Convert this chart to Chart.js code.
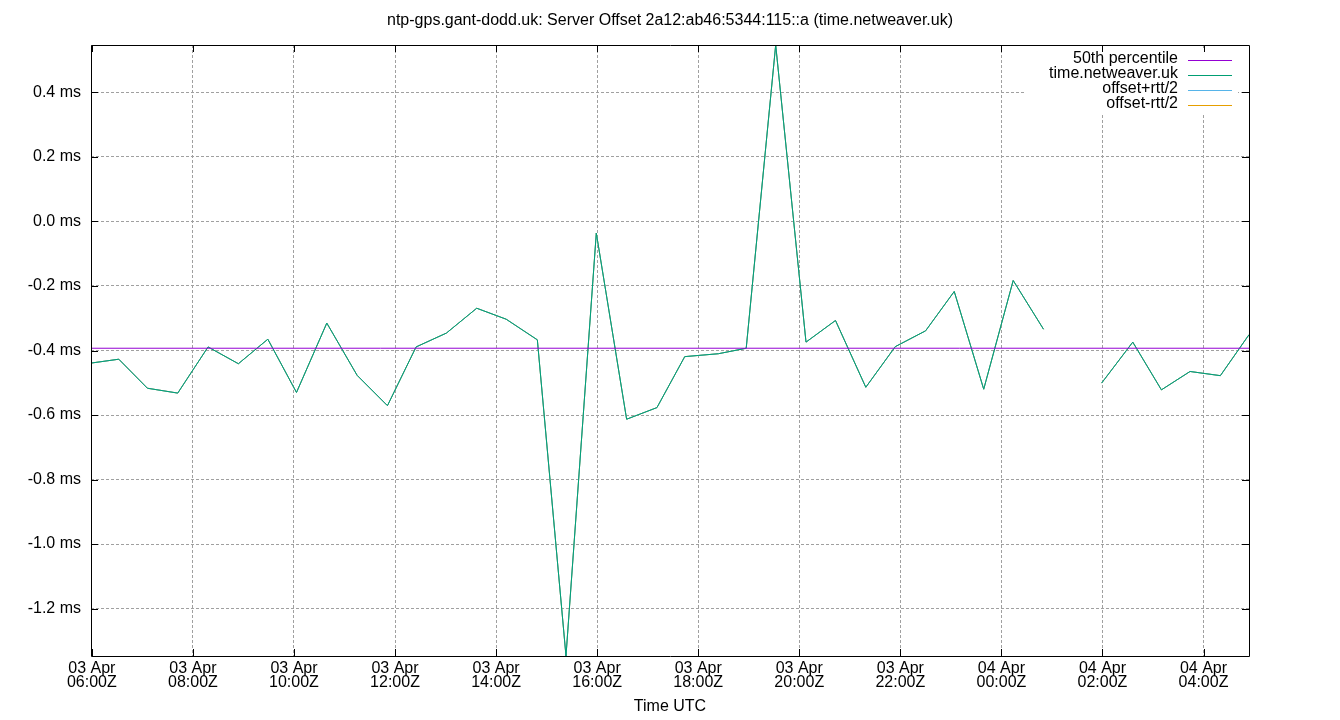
<!DOCTYPE html>
<html>
<head>
<meta charset="utf-8">
<script src="https://cdn.jsdelivr.net/npm/chart.js@4/dist/chart.umd.min.js"></script>
<style>
  html, body { margin: 0; padding: 0; background: #fff; }
  canvas { display: block; }
</style>
</head>
<body>
<canvas id="c" width="1340" height="720"></canvas>
<script>
// Minutes since 03 Apr 06:00Z (null = gap in data)
const sampleMinutes = [-1, 32, 66, 102, 138, 174, 209, 243, 279, 315, 351, 385, 421, 457, 492, 529, 563, 599, 635, 671, 704, 744, 777, 812, 848, 883, 919, 954, 990, 1024, 1059, 1094, 1130, 1165, 1199, 1236, 1270, 1304, 1340, 1374];
// Offset (ms)
const offsetMs = [-0.439, -0.427, -0.517, -0.532, -0.389, -0.441, -0.365, -0.530, -0.315, -0.477, -0.571, -0.389, -0.346, -0.269, -0.303, -0.367, -1.347, -0.036, -0.613, -0.577, -0.419, -0.410, -0.393, 0.547, -0.374, -0.307, -0.514, -0.388, -0.339, -0.217, -0.520, -0.183, -0.334, null, -0.501, -0.374, -0.522, -0.465, -0.478, -0.351];
// offset + rtt/2 (ms) — rtt is negligible at this scale
const offsetPlusRtt = [-0.439, -0.427, -0.517, -0.532, -0.389, -0.441, -0.365, -0.530, -0.315, -0.477, -0.571, -0.389, -0.346, -0.269, -0.303, -0.367, -1.347, -0.036, -0.613, -0.577, -0.419, -0.410, -0.393, 0.547, -0.374, -0.307, -0.514, -0.388, -0.339, -0.217, -0.520, -0.183, -0.334, null, -0.501, -0.374, -0.522, -0.465, -0.478, -0.351];
// offset - rtt/2 (ms)
const offsetMinusRtt = [-0.439, -0.427, -0.517, -0.532, -0.389, -0.441, -0.365, -0.530, -0.315, -0.477, -0.571, -0.389, -0.346, -0.269, -0.303, -0.367, -1.347, -0.036, -0.613, -0.577, -0.419, -0.410, -0.393, 0.547, -0.374, -0.307, -0.514, -0.388, -0.339, -0.217, -0.520, -0.183, -0.334, null, -0.501, -0.374, -0.522, -0.465, -0.478, -0.351];
// 50th percentile (ms)
const percentile50 = -0.393;

const xTickLabels = [
  ["03 Apr", "06:00Z"], ["03 Apr", "08:00Z"], ["03 Apr", "10:00Z"], ["03 Apr", "12:00Z"],
  ["03 Apr", "14:00Z"], ["03 Apr", "16:00Z"], ["03 Apr", "18:00Z"], ["03 Apr", "20:00Z"],
  ["03 Apr", "22:00Z"], ["04 Apr", "00:00Z"], ["04 Apr", "02:00Z"], ["04 Apr", "04:00Z"]
];
const yTickLabels = { "0.4": "0.4 ms", "0.2": "0.2 ms", "0.0": "0.0 ms", "-0.2": "-0.2 ms", "-0.4": "-0.4 ms", "-0.6": "-0.6 ms", "-0.8": "-0.8 ms", "-1.0": "-1.0 ms", "-1.2": "-1.2 ms" };

const titleText = "ntp-gps.gant-dodd.uk: Server Offset 2a12:ab46:5344:115::a (time.netweaver.uk)";

const FONT = '"Liberation Sans", Arial, sans-serif';
const toXY = (vals) => sampleMinutes.map((m, i) => ({ x: m, y: vals[i] }));
const xMin = sampleMinutes[0];
const xMax = sampleMinutes[sampleMinutes.length - 1];

const legendPlugin = {
  id: 'gpLegend',
  afterDatasetsDraw(chart) {
    const { ctx, chartArea: a } = chart;
    ctx.save();
    ctx.fillStyle = '#ffffff';
    ctx.fillRect(a.right - 223, a.top + 3, 212, 65);
    ctx.font = '16px ' + FONT;
    ctx.textAlign = 'right';
    ctx.textBaseline = 'middle';
    chart.data.datasets.forEach((ds, i) => {
      const ly = Math.round(a.top + 15 + i * 15) + 0.5;
      ctx.fillStyle = '#000';
      ctx.fillText(ds.label, a.right - 71, ly - 1.5);
      ctx.strokeStyle = ds.borderColor;
      ctx.lineWidth = 1;
      ctx.beginPath();
      ctx.moveTo(a.right - 61, ly);
      ctx.lineTo(a.right - 17, ly);
      ctx.stroke();
    });
    ctx.restore();
  }
};

const framePlugin = {
  id: 'gpFrame',
  afterDraw(chart) {
    const { ctx, chartArea: a } = chart;
    const xs = chart.scales.x, ys = chart.scales.y;
    const L = 7;
    ctx.save();
    ctx.strokeStyle = '#000';
    ctx.lineWidth = 1;
    ctx.beginPath();
    ctx.rect(Math.round(a.left) + 0.5, Math.round(a.top) + 0.5, Math.round(a.right - a.left), Math.round(a.bottom - a.top));
    xs.ticks.forEach(t => {
      const px = Math.round(xs.getPixelForValue(t.value)) + 0.5;
      ctx.moveTo(px, a.bottom); ctx.lineTo(px, a.bottom - L);
      ctx.moveTo(px, a.top); ctx.lineTo(px, a.top + L);
    });
    ys.ticks.forEach(t => {
      const py = Math.round(ys.getPixelForValue(t.value)) + 0.5;
      ctx.moveTo(a.left, py); ctx.lineTo(a.left + L, py);
      ctx.moveTo(a.right, py); ctx.lineTo(a.right - L, py);
    });
    ctx.stroke();
    ctx.restore();
  }
};

new Chart(document.getElementById('c'), {
  type: 'line',
  data: {
    datasets: [
      { label: '50th percentile', data: [{ x: xMin, y: percentile50 }, { x: xMax, y: percentile50 }], borderColor: '#9400d3', borderWidth: 1 },
      { label: 'time.netweaver.uk', data: toXY(offsetMs), borderColor: '#009e73', borderWidth: 1 },
      { label: 'offset+rtt/2', data: toXY(offsetPlusRtt), borderColor: '#56b4e9', borderWidth: 1 },
      { label: 'offset-rtt/2', data: toXY(offsetMinusRtt), borderColor: '#e69f00', borderWidth: 1 }
    ]
  },
  options: {
    responsive: false,
    animation: false,
    devicePixelRatio: 1,
    spanGaps: false,
    elements: { point: { radius: 0, hoverRadius: 0 }, line: { tension: 0, fill: false } },
    layout: { padding: 0 },
    plugins: {
      legend: { display: false },
      tooltip: { enabled: false },
      title: {
        display: true,
        text: titleText,
        color: '#000',
        font: { family: FONT, size: 16, weight: 'normal', lineHeight: 1.05 },
        padding: { top: 12, bottom: 16.2 }
      }
    },
    scales: {
      x: {
        type: 'linear',
        min: xMin,
        max: xMax,
        afterFit: (s) => { s.height = 64; },
        border: { display: false, dash: [3, 2] },
        grid: { color: '#a0a0a0', lineWidth: 1, drawTicks: false },
        ticks: {
          stepSize: 120,
          includeBounds: false,
          autoSkip: false,
          maxRotation: 0,
          color: '#000',
          padding: 6,
          font: { family: FONT, size: 16, lineHeight: 0.875 },
          callback: (v, i) => xTickLabels[i]
        },
        title: {
          display: true,
          text: 'Time UTC',
          color: '#000',
          font: { family: FONT, size: 16, lineHeight: 1.2 },
          padding: { top: 0, bottom: 4 }
        }
      },
      y: {
        type: 'linear',
        min: -1.347,
        max: 0.547,
        afterFit: (s) => { s.width = 91; },
        border: { display: false, dash: [3, 2] },
        grid: { color: '#a0a0a0', lineWidth: 1, drawTicks: false },
        ticks: {
          stepSize: 0.2,
          includeBounds: false,
          color: '#000',
          padding: 10,
          font: { family: FONT, size: 16 },
          callback: (v) => yTickLabels[v.toFixed(1) === '-0.0' ? '0.0' : v.toFixed(1)]
        }
      },
      yRight: {
        type: 'linear',
        position: 'right',
        min: -1.347,
        max: 0.547,
        afterFit: (s) => { s.width = 91; },
        border: { display: false },
        grid: { display: false, drawTicks: false },
        ticks: { display: false }
      }
    }
  },
  plugins: [legendPlugin, framePlugin]
});
</script>
</body>
</html>
